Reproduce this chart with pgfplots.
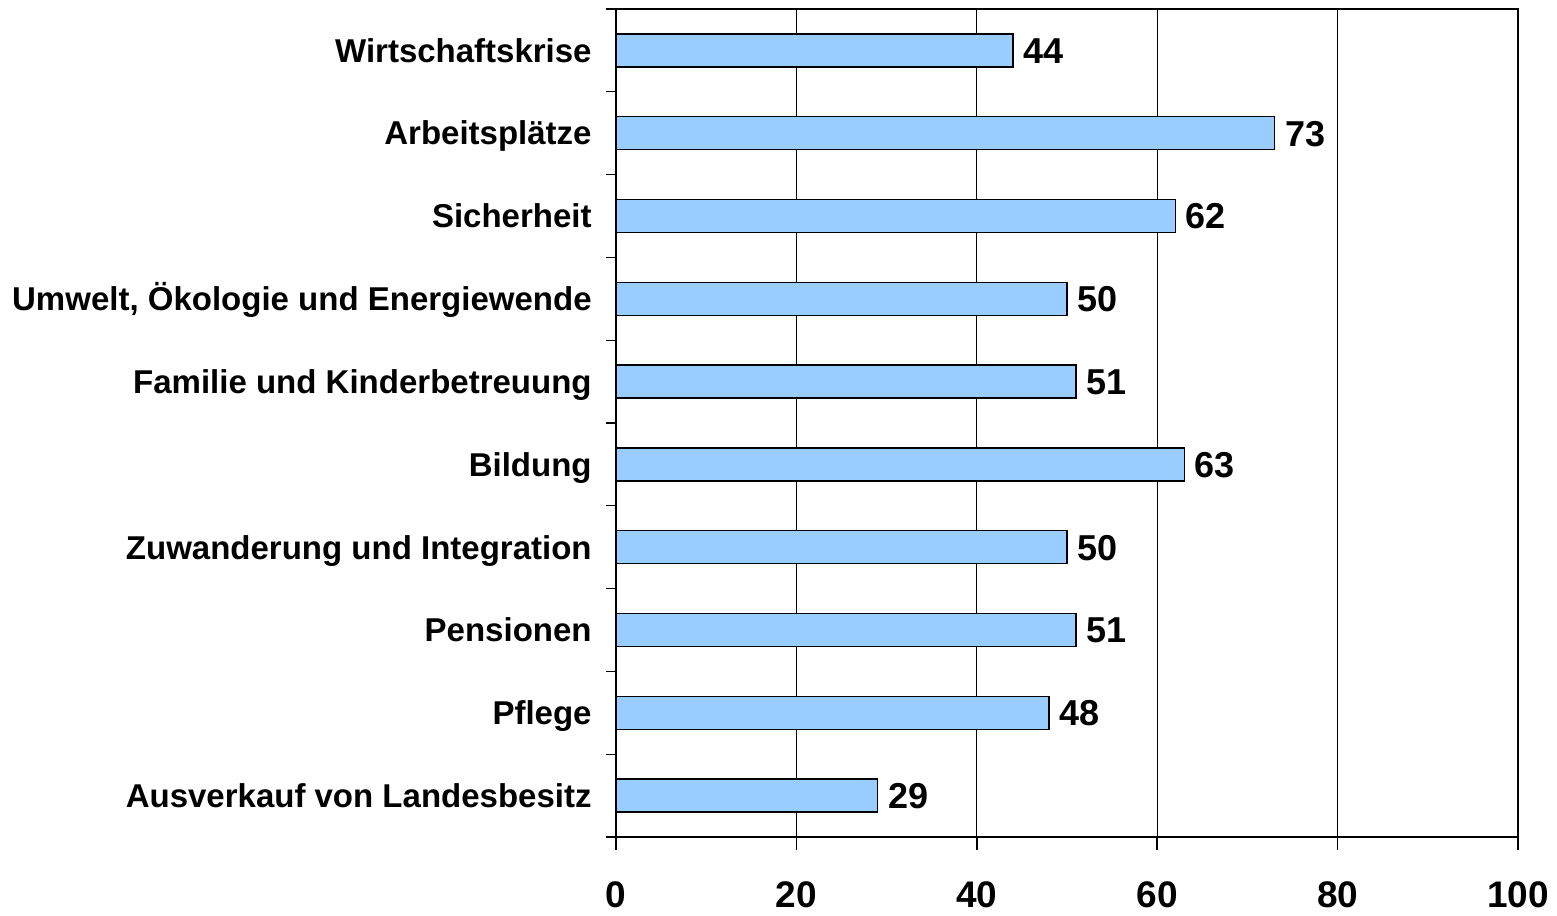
\documentclass[border=0pt]{standalone}
\usepackage{fontspec}
\setmainfont{Liberation Sans}
\usepackage{pgfplots}
\pgfplotsset{compat=1.18}
\definecolor{barblue}{HTML}{99CCFF}
\begin{document}
\begin{tikzpicture}
\begin{axis}[
  at={(0,0)}, anchor=south west,
  scale only axis,
  width=451pt, height=414pt,
  xbar, bar width=16.5pt,
  xmin=0, xmax=100,
  ymin=-0.5, ymax=9.5,
  y dir=reverse,
  xtick={0,20,40,60,80,100},
  ytick={0,...,9},
  yticklabels={Wirtschaftskrise,Arbeitsplätze,Sicherheit,{Umwelt, Ökologie und Energiewende},Familie und Kinderbetreuung,Bildung,Zuwanderung und Integration,Pensionen,Pflege,Ausverkauf von Landesbesitz},
  minor ytick={-0.5,0.5,...,9.5},
  tick align=outside,
  major tick length=6.5pt,
  minor tick length=5pt,
  y tick style={draw=none},
  minor y tick style={draw=black, line width=0.6pt},
  x tick style={draw=black, line width=0.75pt},
  xtick pos=bottom, ytick pos=left,
  xmajorgrids,
  major x grid style={black, line width=0.5pt},
  axis line style={black, line width=0.8pt},
  /pgf/number format/assume math mode=true,
  xticklabel style={font=\fontsize{18.5}{20}\selectfont\bfseries, inner sep=0pt, anchor=north, yshift=-15.5pt},
  yticklabel style={font=\fontsize{16.5}{19}\selectfont\bfseries, inner sep=0pt, anchor=east, xshift=-5.5pt, text height=11.8pt, text depth=0pt},
  nodes near coords,
  every node near coord/.append style={font=\fontsize{18}{20}\selectfont\bfseries, anchor=west, inner sep=0pt, xshift=5pt, text=black, text height=12.9pt, text depth=0pt},
  clip=false,
]
\addplot[fill=barblue, draw=black, line width=0.7pt] coordinates {
  (44,0) (73,1) (62,2) (50,3) (51,4) (63,5) (50,6) (51,7) (48,8) (29,9)
};
\end{axis}
\pgfresetboundingbox
\path (-308pt,-39pt) rectangle (470.5pt,418.5pt);
\end{tikzpicture}
\end{document}
